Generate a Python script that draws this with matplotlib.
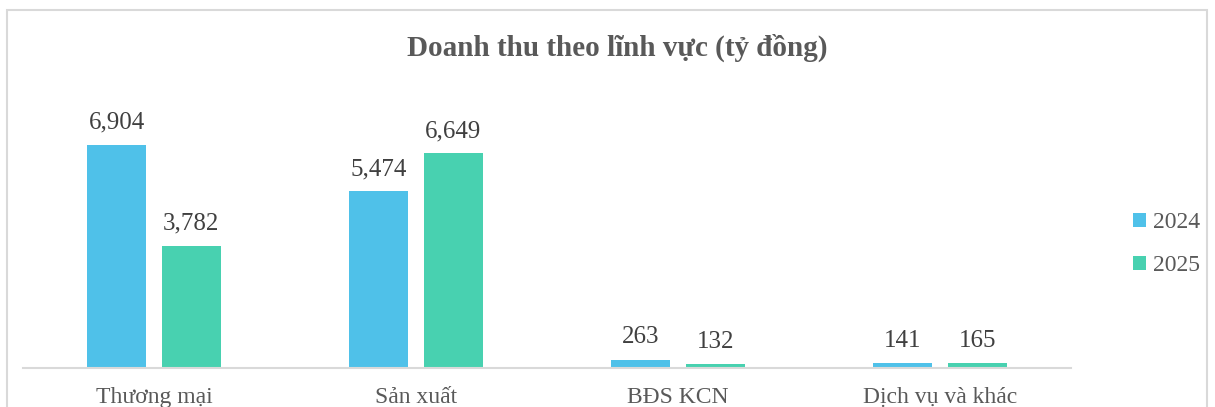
import numpy as np
import matplotlib.pyplot as plt
from matplotlib.patches import Rectangle

categories = ['Thương mại', 'Sản xuất', 'BĐS KCN', 'Dịch vụ và khác']
rev_2024 = [6904, 5474, 263, 141]
rev_2025 = [3782, 6649, 132, 165]
series = ['2024', '2025']
colors = ['#4FC1E9', '#48D1B0']

plt.rcParams['font.family'] = ['Liberation Serif', 'DejaVu Serif']

fig = plt.figure(figsize=(12.15, 4.07), dpi=100)
ax = fig.add_axes([0.019, 0.0958, 0.8625, 0.635])

x = np.arange(len(categories))
w = 0.225
off = w / 2 + 0.03
b1 = ax.bar(x - off, rev_2024, w, color=colors[0], label=series[0])
b2 = ax.bar(x + off, rev_2025, w, color=colors[1], label=series[1])

for bars, vals in [(b1, rev_2024), (b2, rev_2025)]:
    for b, v in zip(bars, vals):
        ax.annotate(f'{v:,}', (b.get_x() + b.get_width() / 2, v),
                    xytext=(0, 8), textcoords='offset points',
                    ha='center', va='bottom', fontsize=18, color='#404040')

ax.set_xlim(-0.5, len(categories) - 0.5)
ax.set_ylim(0, 8000)
ax.set_xticks(x)
ax.set_xticklabels(categories, fontsize=17, color='#595959')
ax.tick_params(axis='x', length=0, pad=14)
ax.set_yticks([])
for s in ['top', 'right', 'left']:
    ax.spines[s].set_visible(False)
ax.spines['bottom'].set_color('#D9D9D9')
ax.spines['bottom'].set_linewidth(1.5)

fig.text(0.508, 0.882, 'Doanh thu theo lĩnh vực (tỷ đồng)', ha='center', va='center',
         fontsize=21, fontweight='bold', color='#595959')

leg = fig.legend(handles=[b1, b2], loc='center left', bbox_to_anchor=(0.915, 0.40),
                 frameon=False, fontsize=17, handlelength=0.55, handleheight=0.55,
                 handletextpad=0.3, labelspacing=0.95, labelcolor='#595959')

fig.patches.append(Rectangle((7 / 1215, -0.1), 1200 / 1215, 1.1 - 10 / 407,
                             transform=fig.transFigure, fill=False,
                             edgecolor='#D9D9D9', linewidth=1.5, clip_on=False))

fig.savefig('out.png', dpi=100)
